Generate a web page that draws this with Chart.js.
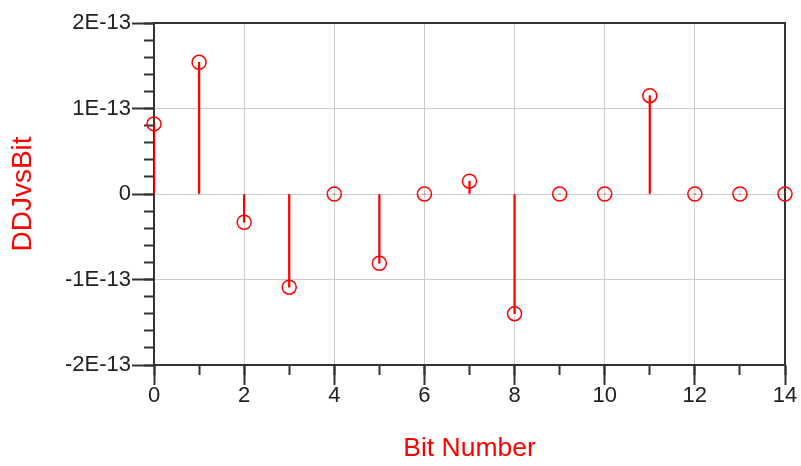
<!DOCTYPE html>
<html>
<head>
<meta charset="utf-8">
<script src="https://cdn.jsdelivr.net/npm/chart.js@4/dist/chart.umd.min.js"></script>
<style>
  html, body { margin: 0; padding: 0; background: #fff; }
  #wrap { width: 801px; height: 466px; }
</style>
</head>
<body>
<div id="wrap"><canvas id="myChart" width="801" height="466"></canvas></div>
<script>
// data
var bits = [0, 1, 2, 3, 4, 5, 6, 7, 8, 9, 10, 11, 12, 13, 14];
var ddj = [0.82e-13, 1.54e-13, -0.33e-13, -1.09e-13, 0, -0.81e-13, 0, 0.15e-13, -1.40e-13, 0, 0, 1.15e-13, 0, 0, 0];
var yTickValues = [-2e-13, -1e-13, 0, 1e-13, 2e-13];

var red = '#ff0000';
var axisColor = '#333333';
var gridColor = '#cccccc';
var font = "'Liberation Sans', Arial, sans-serif";

function fmtY(v) {
    var n = Math.round(v / 1e-13);
    if (Math.abs(v / 1e-13 - n) > 1e-6) return '';
    return n === 0 ? '0' : n + 'E-13';
}

// stems go from 0 to each value
var stems = bits.map(function(b, i) { return { x: b, y: [0, ddj[i]] }; });
var points = bits.map(function(b, i) { return { x: b, y: ddj[i] }; });

var ctx = document.getElementById('myChart');
var myChart = new Chart(ctx, {
    type: 'scatter',
    data: {
        datasets: [{
            type: 'scatter',
            label: 'DDJvsBit',
            data: points,
            pointStyle: 'circle',
            pointRadius: 7,
            pointHoverRadius: 7,
            pointBorderWidth: 1.5,
            borderColor: red,
            backgroundColor: 'rgba(0,0,0,0)',
            clip: false,
            order: 0
        }, {
            type: 'bar',
            label: 'stems',
            data: stems,
            backgroundColor: red,
            borderWidth: 0,
            barThickness: 1.6,
            grouped: false,
            order: 1
        }]
    },
    options: {
        responsive: false,
        animation: false,
        events: [],
        layout: { padding: { top: 23, right: 16, bottom: 0, left: 0 } },
        plugins: { legend: { display: false }, tooltip: { enabled: false } },
        scales: {
            x: {
                type: 'linear', position: 'bottom', weight: 1,
                min: 0, max: 14, offset: false,
                ticks: { stepSize: 2, color: '#222', padding: 0, font: { family: font, size: 22, lineHeight: 1 } },
                grid: { offset: false, color: gridColor, tickColor: axisColor, tickLength: 20, tickWidth: 2, lineWidth: 1 },
                border: { color: axisColor, width: 2 },
                title: { display: true, text: 'Bit Number', color: red, padding: { top: 0, bottom: 1 },
                         font: { family: font, size: 26.5, lineHeight: 1.2 } },
                afterFit: function(s) { s.height = 101; }
            },
            xMinor: {
                type: 'linear', position: 'bottom', weight: 0,
                min: 0, max: 14, offset: false,
                ticks: { stepSize: 1, display: false },
                grid: { offset: false, drawOnChartArea: false, tickColor: axisColor, tickLength: 10, tickWidth: 2 },
                border: { display: false },
                afterFit: function(s) { s.height = 0; }
            },
            xTop: {
                type: 'linear', position: 'top',
                min: 0, max: 14, offset: false,
                ticks: { display: false },
                grid: { offset: false, color: 'rgba(0,0,0,0)', drawTicks: false },
                border: { color: axisColor, width: 2 },
                afterFit: function(s) { s.height = 0; }
            },
            y: {
                type: 'linear', position: 'left', weight: 1,
                min: -2e-13, max: 2e-13,
                afterBuildTicks: function(s) { s.ticks = yTickValues.map(function(v) { return { value: v }; }); },
                ticks: { color: '#222', padding: 1, font: { family: font, size: 22, lineHeight: 1 },
                         callback: function(v) { return fmtY(v); } },
                grid: { color: gridColor, tickColor: axisColor, tickLength: 22, tickWidth: 2, lineWidth: 1 },
                border: { color: axisColor, width: 2 },
                title: { display: true, text: 'DDJvsBit', color: red, padding: { top: 6, bottom: 0 },
                         font: { family: font, size: 28, lineHeight: 1.2 } },
                afterFit: function(s) { s.width = 154; }
            },
            yMinor: {
                type: 'linear', position: 'left', weight: 0,
                min: -2e-13, max: 2e-13,
                afterBuildTicks: function(s) {
                    var t = [];
                    for (var k = -10; k <= 10; k++) t.push({ value: k * 2e-14 });
                    s.ticks = t;
                },
                ticks: { display: false },
                grid: { drawOnChartArea: false, tickColor: axisColor, tickLength: 10, tickWidth: 2 },
                border: { display: false },
                afterFit: function(s) { s.width = 0; }
            },
            yRight: {
                type: 'linear', position: 'right',
                min: -2e-13, max: 2e-13,
                ticks: { display: false },
                grid: { color: 'rgba(0,0,0,0)', drawTicks: false },
                border: { color: axisColor, width: 2 },
                afterFit: function(s) { s.width = 0; }
            }
        }
    }
});
</script>
</body>
</html>
